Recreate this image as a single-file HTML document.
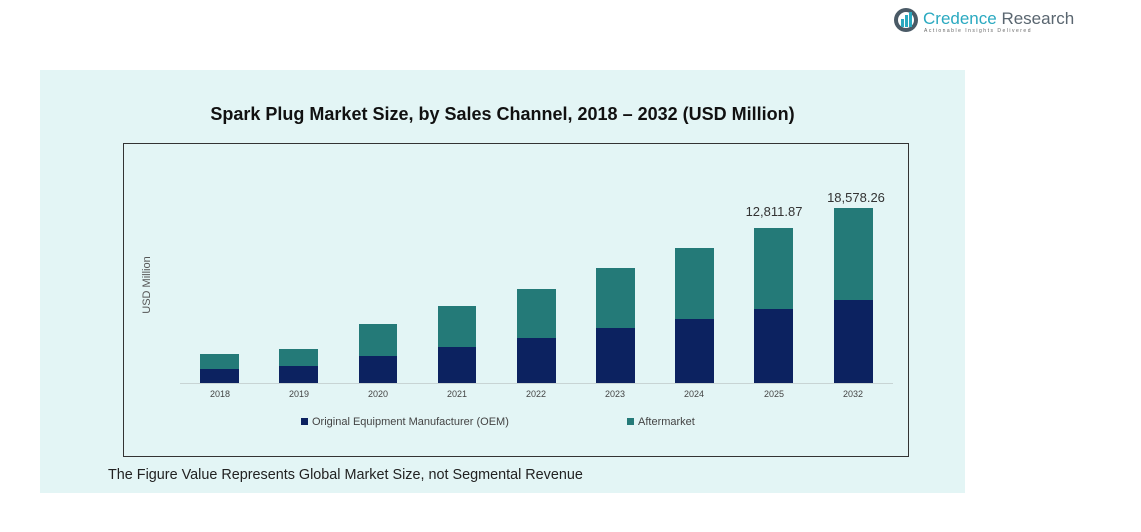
<!DOCTYPE html>
<html><head><meta charset="utf-8"><style>
body{margin:0;width:1141px;height:532px;background:#fff;position:relative;overflow:hidden;font-family:"Liberation Sans",sans-serif}
.a{position:absolute}
</style></head><body>
<div class="a" style="left:40px;top:70px;width:925px;height:423px;background:#e3f5f5"></div>
<div class="a" style="left:0;top:104px;width:1005px;text-align:center;font-weight:bold;font-size:18px;color:#111">Spark Plug Market Size, by Sales Channel, 2018 – 2032 (USD Million)</div>
<div class="a" style="left:123px;top:143px;width:784px;height:312px;border:1px solid #333"></div>
<svg class="a" style="left:0;top:0" width="1141" height="532">
<line x1="180" y1="383.5" x2="893" y2="383.5" stroke="#c8d4d4" stroke-width="1"/>
<g fill="#247a78">
<rect x="200" y="354" width="39" height="29"/><rect x="279" y="349" width="39" height="34"/>
<rect x="359" y="324" width="38" height="59"/><rect x="438" y="306" width="38" height="77"/>
<rect x="517" y="289" width="39" height="94"/><rect x="596" y="268" width="39" height="115"/>
<rect x="675" y="248" width="39" height="135"/><rect x="754" y="228" width="39" height="155"/>
<rect x="834" y="208" width="39" height="175"/></g>
<g fill="#0c2260">
<rect x="200" y="369" width="39" height="14"/><rect x="279" y="366" width="39" height="17"/>
<rect x="359" y="356" width="38" height="27"/><rect x="438" y="347" width="38" height="36"/>
<rect x="517" y="338" width="39" height="45"/><rect x="596" y="328" width="39" height="55"/>
<rect x="675" y="319" width="39" height="64"/><rect x="754" y="309" width="39" height="74"/>
<rect x="834" y="300" width="39" height="83"/></g>
<g font-size="9" fill="#444" text-anchor="middle" font-family="Liberation Sans">
<text x="220" y="397">2018</text><text x="299" y="397">2019</text><text x="378" y="397">2020</text>
<text x="457" y="397">2021</text><text x="536" y="397">2022</text><text x="615" y="397">2023</text>
<text x="694" y="397">2024</text><text x="774" y="397">2025</text><text x="853" y="397">2032</text></g>
<g font-size="13" fill="#333" text-anchor="middle"><text x="774" y="216">12,811.87</text><text x="856" y="202">18,578.26</text></g>
<text x="150" y="285" font-size="11" fill="#555" text-anchor="middle" transform="rotate(-90 150 285)">USD Million</text>
<rect x="301" y="418" width="7" height="7" fill="#0c2260"/>
<text x="312" y="425" font-size="11" fill="#444">Original Equipment Manufacturer (OEM)</text>
<rect x="627" y="418" width="7" height="7" fill="#247a78"/>
<text x="638" y="425" font-size="11" fill="#444">Aftermarket</text>
<text x="108" y="479" font-size="14.4" fill="#222">The Figure Value Represents Global Market Size, not Segmental Revenue</text>
<circle cx="906" cy="20" r="12" fill="#4a5a66"/><circle cx="906" cy="20" r="8" fill="#fff"/>
<rect x="901" y="19" width="3" height="8" fill="#2aa9c0"/><rect x="905" y="15" width="3" height="12" fill="#2aa9c0"/><rect x="909" y="12" width="3" height="15" fill="#2aa9c0"/>
<text x="923" y="24" font-size="17" fill="#2aa9c0">Credence <tspan fill="#5a6670">Research</tspan></text>
<text x="924" y="32" font-size="5" fill="#666" letter-spacing="1.5">Actionable Insights Delivered</text>
</svg>
</body></html>
